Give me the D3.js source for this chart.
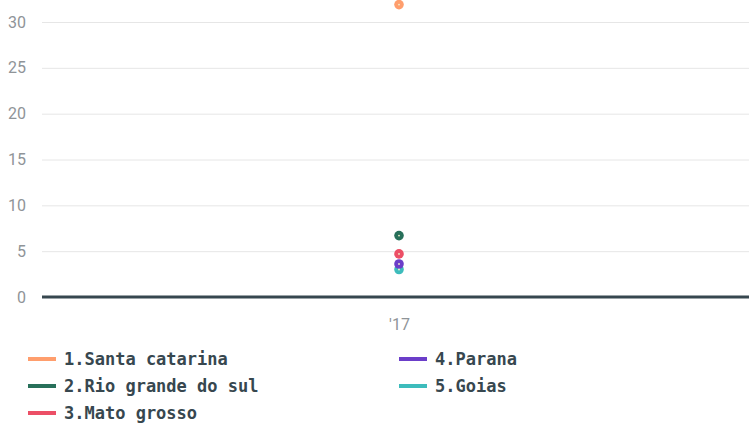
<!DOCTYPE html>
<html>
<head>
<meta charset="utf-8">
<script src="https://cdn.jsdelivr.net/npm/d3@7"></script>
<style>
  body { margin: 0; background: #fff; }
</style>
</head>
<body>
<div id="chart"></div>
<script>
const years = ["'17"];
const states = ["1.Santa catarina", "2.Rio grande do sul", "3.Mato grosso", "4.Parana", "5.Goias"];
const values = [31.9, 6.7, 4.7, 3.6, 3.0];
const colors = ["#ff9e6d", "#28705a", "#ec4f66", "#6b3ec9", "#3dbcbc"];
const yTicks = [0, 5, 10, 15, 20, 25, 30];

const W = 749, H = 423;
const margin = { top: 22, right: 0, bottom: 126, left: 42 },
  width = W - margin.left - margin.right,
  height = H - margin.top - margin.bottom;

const svg = d3.select("#chart").append("svg")
  .attr("width", W).attr("height", H);
const g = svg.append("g")
  .attr("transform", "translate(" + margin.left + "," + margin.top + ")");

const x = d3.scalePoint().domain(years).range([0, width + 7]).padding(0.5);
const y = d3.scaleLinear().domain([0, 30]).range([height, 0]);

// grid + y labels
const yAxis = g.append("g")
  .call(d3.axisLeft(y).tickValues(yTicks).tickSize(-width).tickPadding(16));
yAxis.select(".domain").remove();
yAxis.selectAll(".tick line").attr("stroke", "#e6e6e6");
yAxis.selectAll(".tick text")
  .attr("fill", "#8f9498")
  .style("font-family", "Roboto, sans-serif")
  .style("font-size", "16px");

// baseline
g.append("line")
  .attr("x1", 0).attr("x2", width)
  .attr("y1", y(0)).attr("y2", y(0))
  .attr("stroke", "#37474f").attr("stroke-width", 3);

// x labels
const xAxis = g.append("g")
  .attr("transform", "translate(0," + height + ")")
  .call(d3.axisBottom(x).tickSize(0).tickPadding(22));
xAxis.select(".domain").remove();
xAxis.selectAll(".tick text")
  .attr("fill", "#8f9498")
  .style("font-family", "Roboto, sans-serif")
  .style("font-size", "16px");

// points (draw in reverse so the top of the list sits on top)
const pts = states.map((s, i) => ({ name: s, value: values[i], color: colors[i], year: years[0] }));
g.selectAll(".pt").data(pts.slice().reverse()).enter()
  .append("circle")
  .attr("class", "pt")
  .attr("cx", d => x(d.year))
  .attr("cy", d => y(d.value))
  .attr("r", 4.8)
  .attr("fill", d => d.color);
g.selectAll(".pt-c").data(pts.slice().reverse()).enter()
  .append("circle")
  .attr("class", "pt-c")
  .attr("cx", d => x(d.year))
  .attr("cy", d => y(d.value))
  .attr("r", 0.9)
  .attr("fill", "#f3f0c8");

// legend
const legend = svg.append("g");
const item = legend.selectAll(".lg").data(pts).enter()
  .append("g")
  .attr("class", "lg")
  .attr("transform", (d, i) => {
    const col = i < 3 ? 0 : 1;
    const row = i < 3 ? i : i - 3;
    return "translate(" + (col === 0 ? 28 : 399) + "," + (359 + row * 27) + ")";
  });
item.append("line")
  .attr("x1", 0).attr("x2", 28)
  .attr("stroke", d => d.color).attr("stroke-width", 4);
item.append("text")
  .attr("x", 36).attr("dy", "0.35em")
  .attr("fill", "#37474f")
  .style("font-family", "'DejaVu Sans Mono', monospace")
  .style("font-weight", "bold")
  .style("font-size", "17px")
  .text(d => d.name);
</script>
</body>
</html>
